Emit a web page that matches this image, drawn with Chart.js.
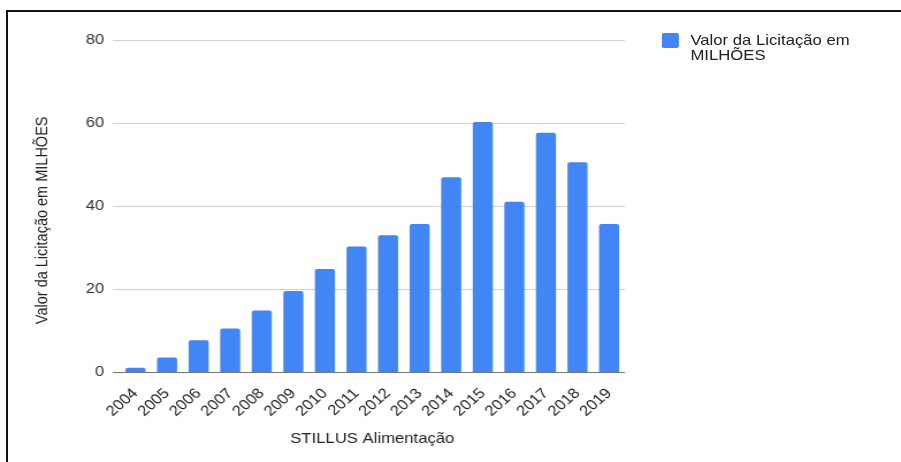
<!DOCTYPE html>
<html>
<head>
<meta charset="utf-8">
<script src="https://cdn.jsdelivr.net/npm/chart.js@4.4.1/dist/chart.umd.min.js"></script>
<style>
  html, body { margin: 0; padding: 0; background: #fff; overflow: hidden; }
  body { width: 901px; height: 462px; position: relative; }
  /* the chart is laid out narrower and stretched sideways to fill the frame */
  #stage { position: absolute; left: 0; top: 0; width: 783px; height: 462px;
           transform: scaleX(1.1507); transform-origin: 0 0; }
  #frame { position: absolute; left: 6px; top: 10px; width: 1000px; height: 1000px;
           border-left: 2px solid #111; border-top: 2px solid #111; pointer-events: none; }
  #legend { position: absolute; left: 575px; top: 33px; font-family: 'Liberation Sans', Arial, sans-serif;
            font-size: 14.5px; line-height: 15px; color: #222; }
  #legend .item { position: relative; padding-left: 25px; width: 150px; }
  #legend .box { position: absolute; left: 0; top: 0; width: 15px; height: 15px; border-radius: 2px; }
  #legend .txt { position: relative; top: -0.5px; }
</style>
</head>
<body>
<div id="stage">
  <canvas id="licitacaoChart" width="783" height="462"></canvas>
  <div id="legend"></div>
</div>
<div id="frame"></div>

<script>
var years = ['2004', '2005', '2006', '2007', '2008', '2009', '2010', '2011',
             '2012', '2013', '2014', '2015', '2016', '2017', '2018', '2019'];
var valores = [1.15, 3.6, 7.75, 10.6, 14.9, 19.6, 24.9, 30.3,
               33.0, 35.7, 47.0, 60.3, 41.1, 57.7, 50.6, 35.7];
var yTicks = [0, 20, 40, 60, 80];
var serieNome = 'Valor da Licitação em MILHÕES';
var eixoX = 'STILLUS Alimentação';
var eixoY = 'Valor da Licitação em MILHÕES';

var fonte = "'Liberation Sans', Arial, sans-serif";
var azul = '#4285f4';

const chart = new Chart('licitacaoChart', {
  type: 'bar',
  data: {
    labels: years,
    datasets: [{
      label: serieNome,
      data: valores,
      backgroundColor: azul,
      borderRadius: 2,
      categoryPercentage: 0.8,
      barPercentage: 0.794
    }]
  },
  options: {
    responsive: false,
    animation: false,
    devicePixelRatio: 1,
    layout: { padding: { left: 10, top: 40, right: 240, bottom: 10 } },
    plugins: {
      legend: { display: false },
      tooltip: { enabled: false }
    },
    scales: {
      x: {
        grid: { display: false },
        border: { display: false },
        ticks: {
          color: '#222',
          font: { family: fonte, size: 14.5 },
          autoSkip: false,
          minRotation: 45,
          maxRotation: 45,
          padding: 4.5
        },
        title: {
          display: true,
          text: eixoX,
          color: '#222',
          font: { family: fonte, size: 14.5 },
          padding: { top: 5.5, bottom: 4.5 }
        }
      },
      y: {
        min: 0,
        max: 80,
        afterBuildTicks: function (scale) {
          scale.ticks = yTicks.map(function (v) { return { value: v }; });
        },
        grid: {
          color: function (ctx) { return ctx.tick && ctx.tick.value === 0 ? '#777' : '#cfcfcf'; },
          tickLength: 6
        },
        border: { display: false },
        ticks: {
          color: '#333',
          font: { family: fonte, size: 14.5 },
          padding: 7.5
        },
        title: {
          display: true,
          // trailing spaces nudge the rotated title down along the axis
          text: eixoY + '       ',
          color: '#222',
          font: { family: fonte, size: 14.5 },
          padding: { top: 18, bottom: 21.5 }
        }
      }
    }
  }
});

// html legend built from the chart's own legend items
var legendEl = document.getElementById('legend');
chart.options.plugins.legend.labels.generateLabels(chart).forEach(function (item) {
  var row = document.createElement('div');
  row.className = 'item';
  row.innerHTML = '<span class="box" style="background:' + item.fillStyle + '"></span>' +
                  '<span class="txt">' + item.text + '</span>';
  legendEl.appendChild(row);
});
</script>
</body>
</html>
